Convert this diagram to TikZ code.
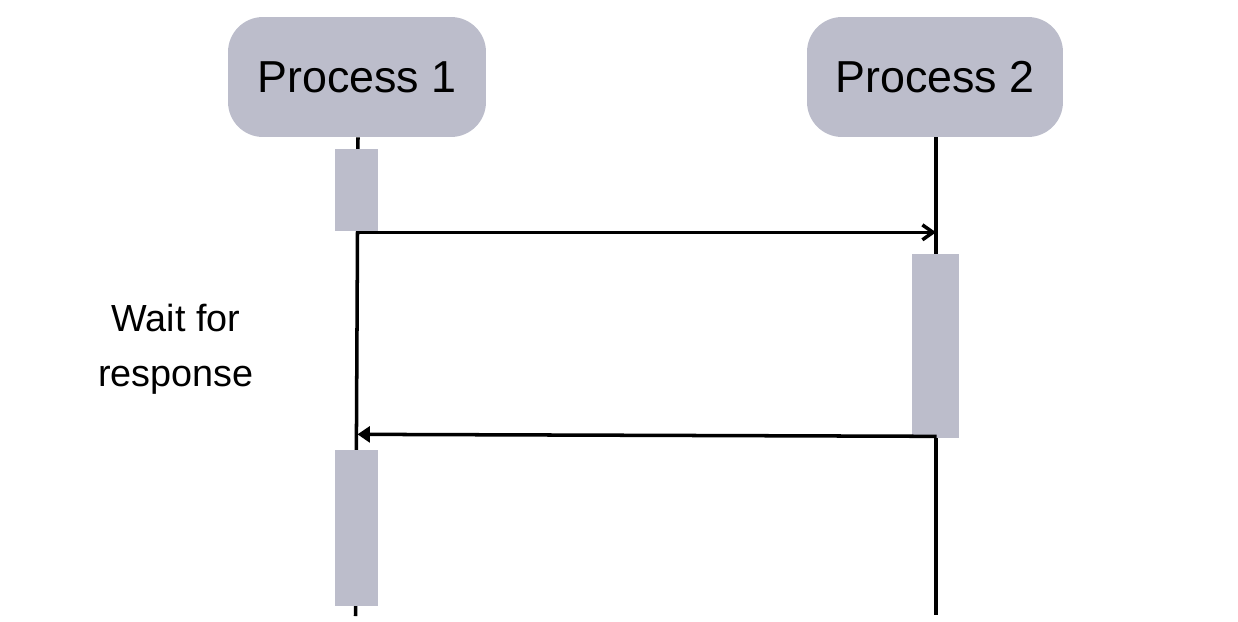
\documentclass[tikz,border=0pt]{standalone}
\usepackage{fontspec}
\setmainfont{Liberation Sans}
\usetikzlibrary{arrows.meta,positioning,calc}
\definecolor{procgray}{HTML}{BCBDCB}

\begin{document}
\begin{tikzpicture}[
        x=0.02cm, y=-0.02cm,
        proc/.style={fill=procgray, rounded corners=0.7cm, minimum width=5.16cm, minimum height=2.4cm, font=\fontsize{25.5}{30}\selectfont, inner sep=0pt},
        actbar/.style={fill=procgray, minimum width=0.86cm, inner sep=0pt},
        life/.style={line width=2pt, black},
        msg/.style={line width=2pt, black},
        note/.style={font=\fontsize{21.5}{31}\selectfont, align=center}
    ]
        \useasboundingbox (0,0) rectangle (1238,622);

        % processes
        \node[proc] (p1) at (357,77) {Process 1};
        \node[proc, minimum width=5.12cm] (p2) at (935,77) {Process 2};

        % lifelines
        \coordinate (l1) at (355.5,616);
        \coordinate (l2) at (936,615);
        \draw[life] (p1.south) ++(1,0) -- (l1);
        \draw[life] (p2.south) ++(1,0) -- (l2);

        % activation bars
        \node[actbar, minimum height=1.64cm] (a1) at (356.5,190) {};
        \node[actbar, minimum width=0.94cm, minimum height=3.68cm] (a2) at (935.5,346) {};
        \node[actbar, minimum height=3.12cm] (a3) at (356.5,528) {};

        % messages
        \draw[msg, -{Straight Barb[length=6pt, width=8.5pt]}] ($(a1.south)+(1,1)$) -- ($(a1.south -| l2)+(0,1)$);
        \draw[msg, -{Triangle[length=7pt, width=9pt]}] ($(a2.south)+(1,-2)$) -- ($(a2.south -| l1)+(2,-4)$);

        \node[note] (wait) at (176,349) {Wait for\\response};
    \end{tikzpicture}
\end{document}
